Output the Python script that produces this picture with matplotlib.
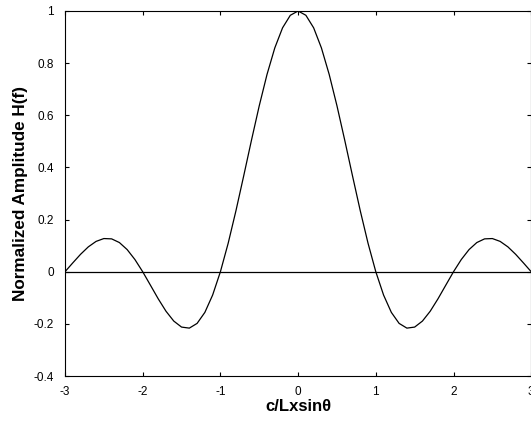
import matplotlib
matplotlib.use("Agg")
import matplotlib.pyplot as plt

plt.rcParams['font.family'] = ['Liberation Sans', 'DejaVu Sans']

# curve, x from -3 to 3 in steps of 0.1
x_vals = [-3.0, -2.9, -2.8, -2.7, -2.6, -2.5, -2.4, -2.3, -2.2, -2.1,
          -2.0, -1.9, -1.8, -1.7, -1.6, -1.5, -1.4, -1.3, -1.2, -1.1,
          -1.0, -0.9, -0.8, -0.7, -0.6, -0.5, -0.4, -0.3, -0.2, -0.1,
          0.0, 0.1, 0.2, 0.3, 0.4, 0.5, 0.6, 0.7, 0.8, 0.9,
          1.0, 1.1, 1.2, 1.3, 1.4, 1.5, 1.6, 1.7, 1.8, 1.9,
          2.0, 2.1, 2.2, 2.3, 2.4, 2.5, 2.6, 2.7, 2.8, 2.9, 3.0]
h_vals = [0.0, 0.0339, 0.0668, 0.0954, 0.1164, 0.1273, 0.1261, 0.1120, 0.0850, 0.0468,
          0.0, -0.0518, -0.1039, -0.1515, -0.1892, -0.2122, -0.2162, -0.1981, -0.1559, -0.0894,
          0.0, 0.1093, 0.2339, 0.3679, 0.5046, 0.6366, 0.7568, 0.8584, 0.9355, 0.9836,
          1.0, 0.9836, 0.9355, 0.8584, 0.7568, 0.6366, 0.5046, 0.3679, 0.2339, 0.1093,
          0.0, -0.0894, -0.1559, -0.1981, -0.2162, -0.2122, -0.1892, -0.1515, -0.1039, -0.0518,
          0.0, 0.0468, 0.0850, 0.1120, 0.1261, 0.1273, 0.1164, 0.0954, 0.0668, 0.0339, 0.0]
x_ticks = [-3, -2, -1, 0, 1, 2, 3]
y_ticks = [-0.4, -0.2, 0, 0.2, 0.4, 0.6, 0.8, 1]
y_labels = ['-0.4', '-0.2', '0', '0.2', '0.4', '0.6', '0.8', '1']

fig = plt.figure(figsize=(5.31, 4.23), dpi=100)
ax = fig.add_axes([0.1224, 0.111, 0.878, 0.863])

ax.plot(x_vals, h_vals, color='black', linewidth=0.9)
ax.axhline(0, color='black', linewidth=0.9)

ax.set_xlim(-3, 3)
ax.set_ylim(-0.4, 1)
ax.set_xticks(x_ticks)
ax.set_xticklabels([str(t) for t in x_ticks])
ax.set_yticks(y_ticks)
ax.set_yticklabels(y_labels)
ax.tick_params(direction='in', top=True, right=True, length=3, width=0.8,
               labelsize=8.5, colors='black')
ax.tick_params(axis='x', pad=7)
ax.tick_params(axis='y', pad=8)
for s in ax.spines.values():
    s.set_linewidth(0.8)

ax.set_xlabel('c/Lxsinθ', fontsize=12, fontweight='bold', labelpad=1)
ax.set_ylabel('Normalized Amplitude H(f)', fontsize=12.3, fontweight='bold', labelpad=4)

fig.savefig('out.png', dpi=100)
